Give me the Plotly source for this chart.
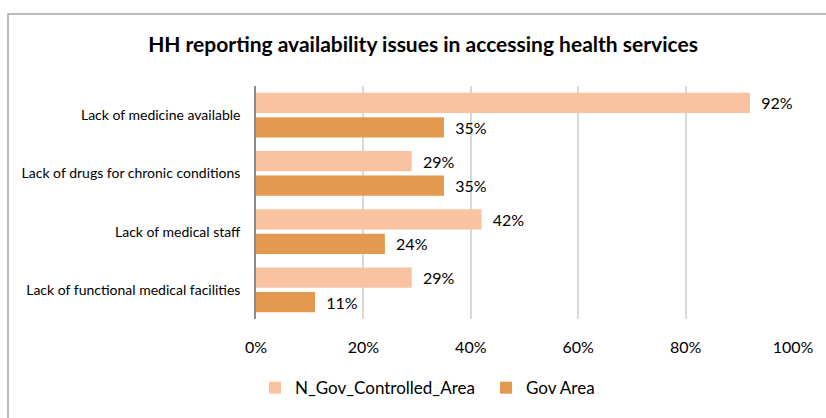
import plotly.graph_objects as go

# Chart data
categories = [
    "Lack of medicine available",
    "Lack of drugs for chronic conditions",
    "Lack of medical staff",
    "Lack of functional medical facilities",
]
n_gov_controlled_area = [0.92, 0.29, 0.42, 0.29]
gov_area = [0.35, 0.35, 0.24, 0.11]
series_names = ["N_Gov_Controlled_Area", "Gov Area"]
x_tick_values = [0, 0.2, 0.4, 0.6, 0.8, 1.0]
x_tick_labels = ["0%", "20%", "40%", "60%", "80%", "100%"]
title_text = "HH reporting availability issues in accessing health services"

# Canvas and plot-area geometry (pixels)
W, H = 826, 418
L, R, T, B = 256, 33, 86, 96
PW, PH = W - L - R, H - T - B

FONT = "Lato"
LIGHT = "#F9C3A1"
DARK = "#E3994F"

fig = go.Figure()
for name, values, color in [
    (series_names[0], n_gov_controlled_area, LIGHT),
    (series_names[1], gov_area, DARK),
]:
    fig.add_trace(go.Bar(
        y=categories,
        x=values,
        name=name,
        orientation="h",
        marker=dict(color=color, line=dict(width=0)),
        texttemplate="\u00a0\u00a0%{x:.0%}",
        textposition="outside",
        textfont=dict(family=FONT, size=16, color="#000000"),
        cliponaxis=False,
        hoverinfo="skip",
    ))

# Outer chart frame (top and left edges visible in the canvas)
def px_to_paper_x(px):
    return (px - L) / PW

def px_to_paper_y(py):
    return (H - B - py) / PH

fig.add_shape(
    type="rect", xref="paper", yref="paper",
    x0=px_to_paper_x(8), x1=px_to_paper_x(W + 20),
    y0=px_to_paper_y(H + 20), y1=px_to_paper_y(13),
    line=dict(color="#A6A6A6", width=1.5),
    fillcolor="rgba(0,0,0,0)",
    layer="below",
)

fig.update_layout(
    width=W, height=H,
    margin=dict(l=L, r=R, t=T, b=B, pad=0),
    paper_bgcolor="white",
    plot_bgcolor="white",
    barmode="group",
    bargap=0.156,
    bargroupgap=0.177,
    title=dict(
        text=title_text,
        x=px_to_paper_x(423), xref="paper", xanchor="center",
        y=1 - 45 / H, yref="container", yanchor="middle",
        font=dict(family=FONT, size=21, color="#000000", weight="bold"),
    ),
    xaxis=dict(
        range=[0, 1],
        tickvals=x_tick_values,
        ticktext=x_tick_labels,
        showgrid=True,
        gridcolor="#D9D9D9",
        gridwidth=1.5,
        zeroline=False,
        showline=False,
        ticks="",
        ticklabelstandoff=17,
        tickfont=dict(family=FONT, size=16, color="#000000"),
        fixedrange=True,
    ),
    yaxis=dict(
        categoryorder="array",
        categoryarray=categories,
        autorange="reversed",
        showline=True,
        linecolor="#8C8C8C",
        linewidth=1.5,
        ticks="",
        ticklabelstandoff=11,
        tickfont=dict(family=FONT, size=14, color="#000000"),
        showgrid=False,
        fixedrange=True,
    ),
    legend=dict(
        orientation="h",
        x=px_to_paper_x(255), xanchor="left",
        y=px_to_paper_y(392), yanchor="middle",
        font=dict(family=FONT, size=17, color="#000000"),
        entrywidth=186,
        entrywidthmode="pixels",
        bgcolor="rgba(0,0,0,0)",
    ),
    showlegend=True,
)

fig.write_html("out.html")
